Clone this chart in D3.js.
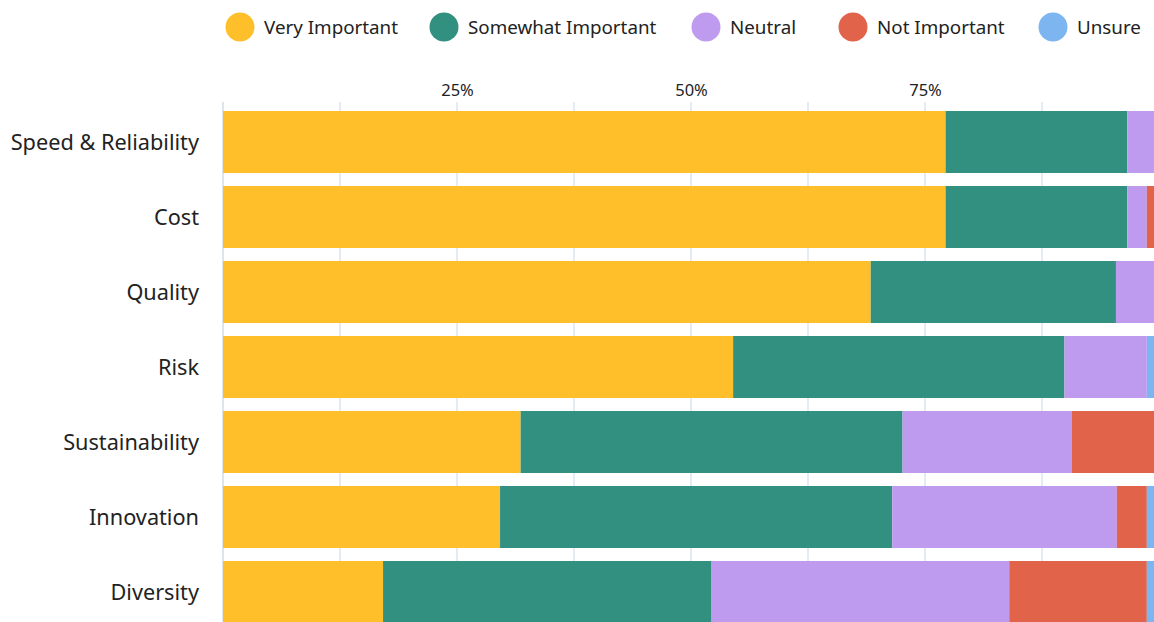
<!DOCTYPE html>
<html>
<head>
<meta charset="utf-8">
<script src="https://cdn.jsdelivr.net/npm/d3@7"></script>
<style>
  html, body { margin: 0; padding: 0; background: #fff; overflow: hidden; }
  svg { display: block; font-family: "Noto Sans", Lato, sans-serif; }
</style>
</head>
<body>
<svg id="chart" width="1154" height="622"></svg>
<script>
const categories = ["Speed & Reliability", "Cost", "Quality", "Risk", "Sustainability", "Innovation", "Diversity"];
const seriesNames = ["Very Important", "Somewhat Important", "Neutral", "Not Important", "Unsure"];
const veryImportant     = [77.2, 77.2, 69.2, 54.5, 31.8, 29.6, 17.1];
const somewhatImportant = [19.4, 19.4, 26.2, 35.4, 40.8, 41.9, 35.1];
const neutral           = [3.4, 2.1, 4.6, 8.8, 18.1, 24.0, 31.8];
const notImportant      = [0.0, 1.3, 0.0, 0.0, 9.3, 3.2, 14.7];
const unsure            = [0.0, 0.0, 0.0, 1.3, 0.0, 1.3, 1.3];
const tickValues = [25, 50, 75];
const tickLabels = ["25%", "50%", "75%"];
const gridValues = [0, 12.5, 25, 37.5, 50, 62.5, 75, 87.5];
const colors = ["#FFBF2B", "#329080", "#BF9BF0", "#E0634A", "#7DB5F0"];

const seriesValues = [veryImportant, somewhatImportant, neutral, notImportant, unsure];
const rows = categories.map((c, i) => {
  const r = { category: c };
  seriesNames.forEach((s, j) => r[s] = seriesValues[j][i]);
  return r;
});

const svg = d3.select("#chart");
const x = d3.scaleLinear().domain([0, 100]).range([223, 1159]);
const y = d3.scaleBand().domain(categories).range([104.5, 629.5])
  .paddingInner(13 / 75).paddingOuter(6.5 / 75);

// gridlines
svg.append("g").selectAll("line").data(gridValues).join("line")
  .attr("x1", d => x(d)).attr("x2", d => x(d))
  .attr("y1", 102).attr("y2", 622)
  .attr("stroke", "#dde4ee")
  .attr("stroke-width", d => d === 0 ? 2 : 1.5);

// top axis labels
const xAxis = d3.axisTop(x).tickValues(tickValues)
  .tickFormat((d, i) => tickLabels[i]).tickSize(0).tickPadding(0);
const ax = svg.append("g").attr("transform", "translate(0,96)").call(xAxis);
ax.select(".domain").remove();
ax.selectAll("text").attr("font-size", 16.5).attr("fill", "#222")
  .attr("font-family", "'Noto Sans', Lato, sans-serif").attr("dy", 0);

// bars
const stack = d3.stack().keys(seriesNames)(rows);
svg.append("g").selectAll("g").data(stack).join("g")
  .attr("fill", (d, i) => colors[i])
  .selectAll("rect").data(d => d).join("rect")
  .attr("x", d => x(d[0]))
  .attr("width", d => Math.max(0, x(d[1]) - x(d[0])))
  .attr("y", d => y(d.data.category))
  .attr("height", y.bandwidth());

// category labels
svg.append("g").selectAll("text").data(categories).join("text")
  .attr("x", 199).attr("y", d => y(d) + y.bandwidth() / 2 - 1)
  .attr("text-anchor", "end").attr("dominant-baseline", "central")
  .attr("font-size", 21.7).attr("fill", "#222").text(d => d);

// legend
const legendX = [240, 444, 706, 853, 1053];
const lg = svg.append("g").selectAll("g").data(seriesNames).join("g")
  .attr("transform", (d, i) => `translate(${legendX[i]},27)`);
lg.append("circle").attr("r", 14.5).attr("fill", (d, i) => colors[i]);
lg.append("text").attr("x", 24).attr("dominant-baseline", "central")
  .attr("font-size", 18.8).attr("fill", "#222").text(d => d);
</script>
</body>
</html>
